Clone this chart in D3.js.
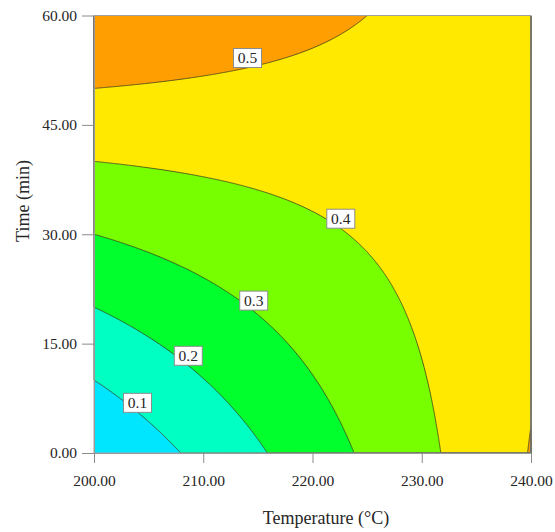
<!DOCTYPE html>
<html>
<head>
<meta charset="utf-8">
<script src="https://cdn.jsdelivr.net/npm/d3@7"></script>
<style>
  html, body { margin: 0; padding: 0; background: #fff; }
  svg { display: block; }
  text { font-family: "Liberation Serif", "Times New Roman", serif; fill: #262626; }
</style>
</head>
<body>
<svg id="chart" width="555" height="532"></svg>
<script>
// Factor ranges
const tempRange = [200, 240];   // Temperature (°C)
const timeRange = [0, 60];      // Time (min)

// Fitted response model in coded units A = (T-220)/20, B = (t-30)/30:
// y = b0 + bA*A + bB*B + bAB*A*B
const coefficients = [0.386, 0.086, 0.134, -0.166];

// Contour levels and band colours (lowest band first)
const levels = [0.1, 0.2, 0.3, 0.4, 0.5];
const bandColors = ["#00E6FF", "#00FFC3", "#00FF2C", "#77FF00", "#FFE900", "#FF9E00"];

// Tick values
const tempTicks = [200, 210, 220, 230, 240];
const timeTicks = [0, 15, 30, 45, 60];

// Contour label anchors (temperature, time) and their levels
const labelLevels = [0.1, 0.2, 0.3, 0.4, 0.5];
const labelTemp = [203.98, 208.63, 214.62, 222.59, 214.05];
const labelTime = [6.88, 13.33, 20.9, 32.13, 54.17];

const svg = d3.select("#chart");
const plotLeft = 94, plotRight = 531, plotTop = 15.5, plotBottom = 453;

const x = d3.scaleLinear().domain(tempRange).range([plotLeft, plotRight]);
const y = d3.scaleLinear().domain(timeRange).range([plotBottom, plotTop]);

function response(T, t) {
  const A = (T - 220) / 20, B = (t - 30) / 30;
  const [b0, bA, bB, bAB] = coefficients;
  return b0 + bA * A + bB * B + bAB * A * B;
}

// Sample the model on a fine grid (cell centres)
const nx = 440, ny = 440;
const grid = new Array(nx * ny);
for (let j = 0; j < ny; j++) {
  const t = timeRange[0] + (j + 0.5) * (timeRange[1] - timeRange[0]) / ny;
  for (let i = 0; i < nx; i++) {
    const T = tempRange[0] + (i + 0.5) * (tempRange[1] - tempRange[0]) / nx;
    grid[j * nx + i] = response(T, t);
  }
}

const contours = d3.contours().size([nx, ny]).thresholds(levels)(grid);

const toPlot = d3.geoTransform({
  point(px, py) {
    const T = tempRange[0] + px * (tempRange[1] - tempRange[0]) / nx;
    const t = timeRange[0] + py * (timeRange[1] - timeRange[0]) / ny;
    this.stream.point(x(T), y(t));
  }
});
const path = d3.geoPath(toPlot);

const plot = svg.append("g");

// lowest band
plot.append("rect")
  .attr("x", plotLeft).attr("y", plotTop)
  .attr("width", plotRight - plotLeft).attr("height", plotBottom - plotTop)
  .attr("fill", bandColors[0]);

// filled bands above each level
plot.selectAll("path.band")
  .data(contours)
  .join("path")
  .attr("class", "band")
  .attr("d", path)
  .attr("fill", (d, i) => bandColors[i + 1])
  .attr("stroke", "none");

// contour lines
plot.selectAll("path.line")
  .data(contours)
  .join("path")
  .attr("class", "line")
  .attr("d", path)
  .attr("fill", "none")
  .attr("stroke", "#3a3a22")
  .attr("stroke-width", 0.8);

// frame
svg.append("rect")
  .attr("x", plotLeft).attr("y", plotTop)
  .attr("width", plotRight - plotLeft).attr("height", plotBottom - plotTop)
  .attr("fill", "none")
  .attr("stroke", "#a0a0a0")
  .attr("stroke-width", 1);

// axes
const fmt = d3.format(".2f");
const xAxis = svg.append("g")
  .attr("transform", `translate(0,${plotBottom})`)
  .call(d3.axisBottom(x).tickValues(tempTicks).tickFormat(fmt).tickSize(10).tickSizeOuter(0).tickPadding(12));
const yAxis = svg.append("g")
  .attr("transform", `translate(${plotLeft},0)`)
  .call(d3.axisLeft(y).tickValues(timeTicks).tickFormat(fmt).tickSize(12).tickSizeOuter(0).tickPadding(5));

[xAxis, yAxis].forEach(g => {
  g.select(".domain").attr("stroke", "#9a9a9a");
  g.selectAll(".tick line").attr("stroke", "#8a8a8a");
  g.selectAll(".tick text")
    .attr("fill", "#262626")
    .style("font-family", '"Liberation Serif", "Times New Roman", serif')
    .style("font-size", "15.5px");
});

// axis titles
svg.append("text")
  .attr("x", 326).attr("y", 524)
  .attr("text-anchor", "middle")
  .style("font-size", "18px")
  .text("Temperature (°C)");

svg.append("text")
  .attr("transform", "translate(29,201) rotate(-90)")
  .attr("text-anchor", "middle")
  .style("font-size", "18px")
  .text("Time (min)");

// contour labels
const labels = svg.append("g")
  .selectAll("g")
  .data(labelLevels.map((v, i) => ({ v, T: labelTemp[i], t: labelTime[i] })))
  .join("g")
  .attr("transform", d => `translate(${x(d.T)},${y(d.t)})`);

labels.append("rect")
  .attr("x", -14).attr("y", -9.5)
  .attr("width", 28).attr("height", 19)
  .attr("fill", "#fff")
  .attr("stroke", "#8c8c8c")
  .attr("stroke-width", 1);

labels.append("text")
  .attr("text-anchor", "middle")
  .attr("dy", "0.34em")
  .style("font-size", "15.5px")
  .text(d => d3.format(".1f")(d.v));
</script>
</body>
</html>
